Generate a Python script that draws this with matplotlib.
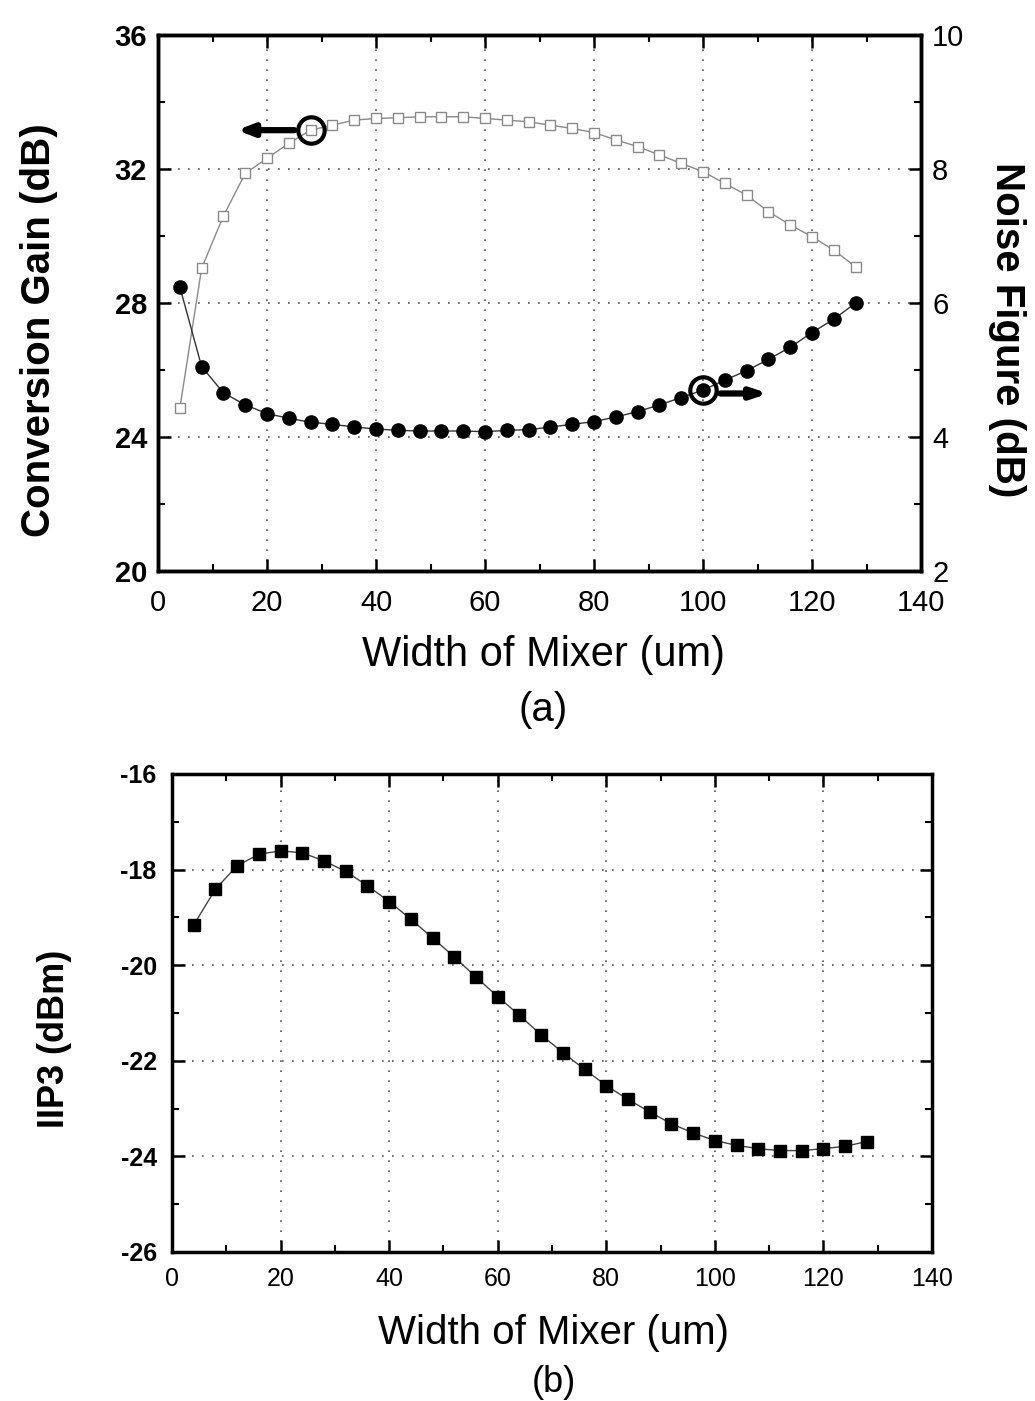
import matplotlib
matplotlib.use('Agg')
import matplotlib.pyplot as plt
from matplotlib.ticker import MultipleLocator
import numpy as np

plt.rcParams['font.family'] = ['Liberation Sans', 'DejaVu Sans']
plt.rcParams['axes.unicode_minus'] = False

# width of mixer (um)
width_um = [4, 8, 12, 16, 20, 24, 28, 32, 36, 40, 44, 48, 52, 56, 60, 64,
            68, 72, 76, 80, 84, 88, 92, 96, 100, 104, 108, 112, 116, 120, 124, 128]

# (a) conversion gain (dB), left axis
conv_gain = [24.86, 29.04, 30.6, 31.87, 32.32, 32.77, 33.16, 33.31, 33.46, 33.51, 33.53, 33.56,
             33.56, 33.56, 33.51, 33.46, 33.41, 33.31, 33.21, 33.09, 32.87, 32.67, 32.42, 32.17,
             31.92, 31.57, 31.22, 30.73, 30.33, 29.98, 29.58, 29.08]

# (a) noise figure (dB), right axis
noise_fig = [6.24, 5.05, 4.66, 4.48, 4.35, 4.28, 4.22, 4.19, 4.15, 4.12, 4.10, 4.09,
             4.09, 4.09, 4.08, 4.10, 4.11, 4.15, 4.19, 4.23, 4.30, 4.38, 4.48, 4.59,
             4.70, 4.85, 4.99, 5.16, 5.34, 5.56, 5.76, 6.00]

# (b) IIP3 (dBm)
iip3 = [-19.16, -18.41, -17.92, -17.68, -17.61, -17.65, -17.82, -18.04, -18.34, -18.67,
        -19.04, -19.43, -19.83, -20.25, -20.66, -21.05, -21.46, -21.83, -22.18, -22.52,
        -22.81, -23.07, -23.32, -23.51, -23.67, -23.77, -23.84, -23.88, -23.88, -23.84,
        -23.79, -23.69]

# highlighted points
cg_mark_x = 28
nf_mark_x = 100


def style_axis(ax, lw=2.5):
    for s in ax.spines.values():
        s.set_linewidth(lw)
    ax.tick_params(which='both', direction='in', top=True)
    ax.tick_params(which='major', length=9, width=1.8)
    ax.tick_params(which='minor', length=5, width=1.5)
    ax.grid(True, which='major', linestyle=(0, (1, 5)), color='#555555', linewidth=1.2)


fig = plt.figure(figsize=(10.35, 14.01), dpi=100)

# ---------------- (a) ----------------
ax1 = fig.add_axes([0.1527, 0.5924, 0.7372, 0.3826])
ax1.plot(width_um, conv_gain, color='#8a8a8a', linewidth=1.0, marker='s', markersize=7,
         markerfacecolor='white', markeredgecolor='#8a8a8a', markeredgewidth=1.0, zorder=3)
ax1.set_xlim(0, 140)
ax1.set_ylim(20, 36)
ax1.xaxis.set_major_locator(MultipleLocator(20))
ax1.xaxis.set_minor_locator(MultipleLocator(10))
ax1.yaxis.set_major_locator(MultipleLocator(4))
ax1.yaxis.set_minor_locator(MultipleLocator(2))
style_axis(ax1)
ax1.tick_params(axis='y', which='both', right=False)
ax1.tick_params(axis='y', labelsize=21, pad=8)
ax1.tick_params(axis='x', labelsize=21, pad=13)
for lab in ax1.get_yticklabels():
    lab.set_fontweight('bold')

ax2 = ax1.twinx()
ax2.plot(width_um, noise_fig, color='#333333', linewidth=1.0, marker='o', markersize=9.5,
         markerfacecolor='black', markeredgecolor='black', zorder=3)
ax2.set_ylim(2, 10)
ax2.yaxis.set_major_locator(MultipleLocator(2))
ax2.yaxis.set_minor_locator(MultipleLocator(1))
ax2.tick_params(axis='y', which='both', direction='in')
ax2.tick_params(axis='y', which='major', length=9, width=1.8, labelsize=21, pad=8)
ax2.tick_params(axis='y', which='minor', length=5, width=1.5)
for s in ax2.spines.values():
    s.set_linewidth(2.5)

# circles and arrows
i_cg = width_um.index(cg_mark_x)
ax1.plot(cg_mark_x, conv_gain[i_cg], marker='o', markersize=19, markerfacecolor='none',
         markeredgecolor='black', markeredgewidth=3, zorder=5)
ax1.annotate('', xy=(14.5, conv_gain[i_cg]), xytext=(25.0, conv_gain[i_cg]),
             arrowprops=dict(arrowstyle='-|>,head_length=0.9,head_width=0.35', color='black',
                             lw=4.5, shrinkA=0, shrinkB=0), zorder=5)

i_nf = width_um.index(nf_mark_x)
ax2.plot(nf_mark_x, noise_fig[i_nf], marker='o', markersize=19, markerfacecolor='none',
         markeredgecolor='black', markeredgewidth=3, zorder=5)
ax2.annotate('', xy=(112, noise_fig[i_nf] - 0.05), xytext=(103.2, noise_fig[i_nf] - 0.05),
             arrowprops=dict(arrowstyle='-|>,head_length=0.9,head_width=0.3', color='black',
                             lw=4.5, shrinkA=0, shrinkB=0), zorder=5)

fig.text(39 / 1035, 1 - 330 / 1401, 'Conversion Gain (dB)', rotation=90, fontsize=29,
         fontweight='bold', ha='center', va='center')
fig.text(1007 / 1035, 1 - 330 / 1401, 'Noise Figure (dB)', rotation=270, fontsize=29,
         fontweight='bold', ha='center', va='center')
fig.text(543 / 1035, 1 - 655 / 1401, 'Width of Mixer (um)', fontsize=30,
         ha='center', va='center')
fig.text(543 / 1035, 1 - 710 / 1401, '(a)', fontsize=29, ha='center', va='center')

# ---------------- (b) ----------------
ax3 = fig.add_axes([0.1662, 0.1064, 0.7343, 0.3412])
ax3.plot(width_um, iip3, color='#444444', linewidth=1.0, marker='s', markersize=8.5,
         markerfacecolor='black', markeredgecolor='black', zorder=3)
ax3.set_xlim(0, 140)
ax3.set_ylim(-26, -16)
ax3.xaxis.set_major_locator(MultipleLocator(20))
ax3.xaxis.set_minor_locator(MultipleLocator(10))
ax3.yaxis.set_major_locator(MultipleLocator(2))
ax3.yaxis.set_minor_locator(MultipleLocator(1))
style_axis(ax3)
ax3.tick_params(which='both', right=True)
ax3.tick_params(labelsize=18, pad=11)
for lab in ax3.get_yticklabels():
    lab.set_fontweight('bold')

fig.text(55 / 1035, 1 - 1039 / 1401, 'IIP3 (dBm)', rotation=90, fontsize=26,
         fontweight='bold', ha='center', va='center')
fig.text(554 / 1035, 1 - 1333 / 1401, 'Width of Mixer (um)', fontsize=29,
         ha='center', va='center')
fig.text(554 / 1035, 1 - 1382 / 1401, '(b)', fontsize=26, ha='center', va='center')

fig.savefig('out.png', dpi=100)
